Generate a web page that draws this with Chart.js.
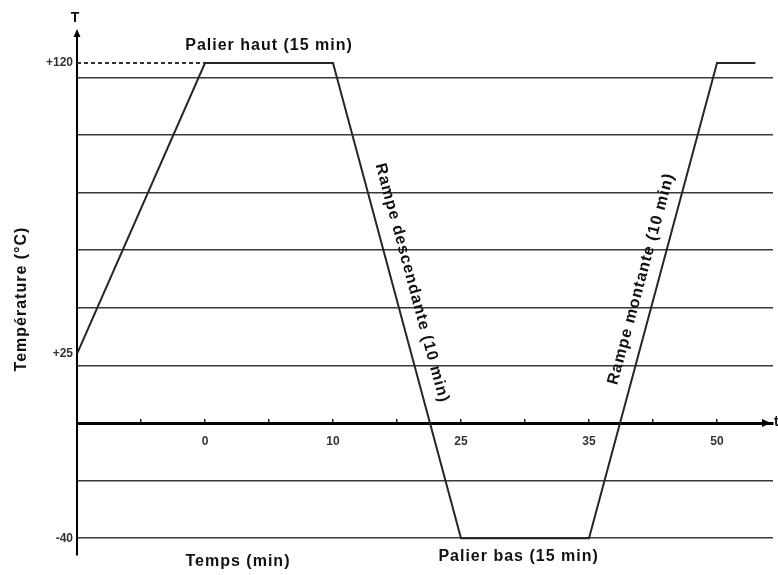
<!DOCTYPE html>
<html>
<head>
<meta charset="utf-8">
<script src="https://cdn.jsdelivr.net/npm/chart.js@4/dist/chart.umd.min.js"></script>
<style>
  body { margin: 0; background: #fff; }
</style>
</head>
<body>
<canvas id="cycle" width="778" height="575"></canvas>
<script>
// position des points sur l'axe du temps (en graduations) et niveaux de température
const TIME_POS = [0, 2, 4, 6, 8, 10, 10.6];
const TEMP_POS = [24, 125, 125, -40, -40, 125, 125];

// pointillés du palier haut vers l'axe
const DASH_TIME = [0, 2];
const DASH_TEMP = [125, 125];

// graduations de l'axe du temps (une par division)
const X_TICK_LABELS = ['', '', '0', '', '10', '', '25', '', '35', '', '50'];

// étiquettes de l'axe des températures
const Y_TICK_VALUES = [125, 24, -40];
const Y_TICK_LABELS = ['+120', '+25', '-40'];

// lignes horizontales du quadrillage
const GRID_TEMPS = [-40, -20, 0, 20, 40, 60, 80, 100, 120];

const FONT = "'Liberation Sans', Arial, sans-serif";

function drawText(ctx, text, x, y, angle) {
    ctx.save();
    ctx.translate(x, y);
    ctx.rotate(angle || 0);
    ctx.fillText(text, 0, 0);
    ctx.restore();
}

// flèches, titres et légendes du schéma
const annotations = {
    id: 'annotations',
    afterDraw(chart) {
        const { ctx, chartArea, scales: { x, y } } = chart;
        const ax = x.getPixelForValue(0);
        const y0 = y.getPixelForValue(0);

        ctx.save();
        ctx.fillStyle = '#000';

        // flèche de l'axe T
        ctx.beginPath();
        ctx.moveTo(ax, chartArea.top - 7);
        ctx.lineTo(ax - 3.5, chartArea.top + 1);
        ctx.lineTo(ax + 3.5, chartArea.top + 1);
        ctx.closePath();
        ctx.fill();

        // flèche de l'axe t
        ctx.beginPath();
        ctx.moveTo(chartArea.right - 2, y0);
        ctx.lineTo(chartArea.right - 11, y0 - 4);
        ctx.lineTo(chartArea.right - 11, y0 + 4);
        ctx.closePath();
        ctx.fill();

        ctx.fillStyle = '#111';
        ctx.textBaseline = 'middle';
        ctx.textAlign = 'center';
        ctx.font = 'bold 14px ' + FONT;
        drawText(ctx, 'T', ax - 2, 18);
        ctx.textAlign = 'left';
        drawText(ctx, 't', chartArea.right + 1, y0 - 1);

        ctx.letterSpacing = '1px';
        ctx.textAlign = 'center';
        ctx.font = 'bold 16px ' + FONT;

        const top = y.getPixelForValue(TEMP_POS[1]);
        drawText(ctx, 'Palier haut (15 min)', x.getPixelForValue(3), top - 17);
        drawText(ctx, 'Palier bas (15 min)', x.getPixelForValue(6.9), 557);
        drawText(ctx, 'Temps (min)', 238, 562);
        drawText(ctx, 'Température (°C)', 22, 299, -Math.PI / 2);

        // textes le long des rampes
        const p = (i) => ({ x: x.getPixelForValue(TIME_POS[i]), y: y.getPixelForValue(TEMP_POS[i]) });
        const rampLabel = (a, b, text, dx, dy) => {
            const angle = Math.atan2(b.y - a.y, b.x - a.x);
            ctx.save();
            ctx.translate((a.x + b.x) / 2, (a.y + b.y) / 2);
            ctx.rotate(angle);
            ctx.fillText(text, dx, dy);
            ctx.restore();
        };
        rampLabel(p(2), p(3), 'Rampe descendante (10 min)', -13, -19);
        rampLabel(p(4), p(5), 'Rampe montante (10 min)', 18, -17);

        ctx.restore();
    }
};

new Chart(document.getElementById('cycle'), {
    type: 'line',
    data: {
        datasets: [
            {
                data: TIME_POS.map((t, i) => ({ x: t, y: TEMP_POS[i] })),
                borderColor: '#262626',
                borderWidth: 2,
                pointRadius: 0,
                tension: 0,
                clip: false
            },
            {
                data: DASH_TIME.map((t, i) => ({ x: t, y: DASH_TEMP[i] })),
                borderColor: '#333',
                borderWidth: 2,
                borderDash: [4, 3],
                pointRadius: 0,
                clip: false
            }
        ]
    },
    options: {
        responsive: false,
        animation: false,
        layout: { padding: { top: 36, right: 5, bottom: 20, left: 0 } },
        plugins: {
            legend: { display: false },
            tooltip: { enabled: false }
        },
        scales: {
            x: {
                type: 'linear',
                position: { y: 0 },
                min: 0,
                max: 10.875,
                afterBuildTicks: (scale) => {
                    scale.ticks = X_TICK_LABELS.map((_, i) => ({ value: i })).filter(t => t.value > 0);
                },
                grid: {
                    drawOnChartArea: false,
                    drawTicks: true,
                    tickLength: -6,
                    color: '#222',
                    lineWidth: 1.5
                },
                border: { display: true, width: 3, color: '#000' },
                ticks: {
                    autoSkip: false,
                    maxRotation: 0,
                    padding: 17,
                    color: '#333',
                    font: { family: FONT, size: 12, weight: 'bold' },
                    callback: (v) => X_TICK_LABELS[v] || ''
                }
            },
            y: {
                type: 'linear',
                min: -45.83,
                max: 134.4,
                afterFit: (scale) => { scale.width = 77; },
                afterBuildTicks: (scale) => {
                    const values = [...new Set([...GRID_TEMPS, ...Y_TICK_VALUES])].sort((a, b) => a - b);
                    scale.ticks = values.map(v => ({ value: v }));
                },
                grid: {
                    drawTicks: false,
                    lineWidth: 1.6,
                    color: (c) => (c.tick && GRID_TEMPS.includes(c.tick.value) && c.tick.value !== 0) ? '#383838' : 'rgba(0,0,0,0)'
                },
                border: { display: true, width: 2, color: '#000' },
                ticks: {
                    padding: 4,
                    color: '#333',
                    font: { family: FONT, size: 12, weight: 'bold' },
                    callback: (v) => {
                        const i = Y_TICK_VALUES.indexOf(v);
                        return i >= 0 ? Y_TICK_LABELS[i] : '';
                    }
                }
            }
        }
    },
    plugins: [annotations]
});
</script>
</body>
</html>
